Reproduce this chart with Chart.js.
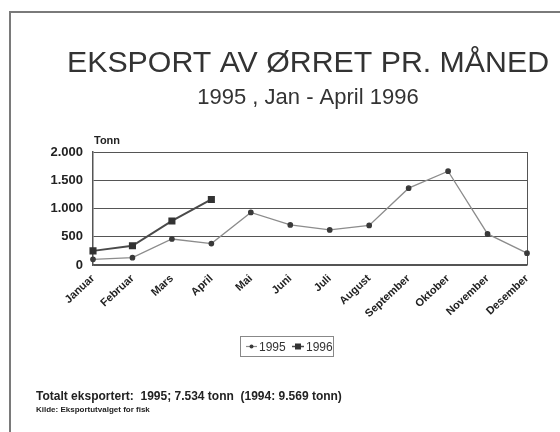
<!DOCTYPE html>
<html>
<head>
<meta charset="utf-8">
<script src="https://cdn.jsdelivr.net/npm/chart.js@4/dist/chart.umd.min.js"></script>
<style>
html,body{margin:0;padding:0;background:#fff;}
#wrap{position:relative;width:560px;height:432px;}
</style>
</head>
<body>
<div id="wrap"><canvas id="c" width="560" height="432"></canvas></div>
<script>
const months = ["Januar","Februar","Mars","April","Mai","Juni","Juli","August","September","Oktober","November","Desember"];
const values1995 = [100,130,460,380,930,710,620,700,1360,1660,550,210];
const values1996 = [250,340,780,1160,null,null,null,null,null,null,null,null];
const yTicks = [0,500,1000,1500,2000];
const titleText = "EKSPORT AV ØRRET PR. MÅNED";
const subtitleText = "1995 , Jan - April 1996";
const unitText = "Tonn";
const footerText = "Totalt eksportert:  1995; 7.534 tonn  (1994: 9.569 tonn)";
const sourceText = "Kilde: Eksportutvalget for fisk";
const seriesNames = ["1995","1996"];

const FONT = "'Liberation Sans', Arial, sans-serif";

function fmtTick(v) {
  if (v >= 1000) {
    return Math.floor(v / 1000) + '.' + String(v % 1000).padStart(3, '0');
  }
  return String(v);
}

const decor = {
  id: 'decor',
  beforeDraw(chart) {
    const ctx = chart.ctx;
    ctx.save();
    ctx.fillStyle = '#fff';
    ctx.fillRect(0, 0, chart.width, chart.height);
    ctx.strokeStyle = '#7a7a7a';
    ctx.lineWidth = 2;
    ctx.beginPath();
    ctx.moveTo(10, 432);
    ctx.lineTo(10, 12);
    ctx.lineTo(560, 12);
    ctx.stroke();
    ctx.restore();
  },
  afterDraw(chart) {
    const ctx = chart.ctx;
    const a = chart.chartArea;
    ctx.save();
    ctx.fillStyle = '#333';
    ctx.textBaseline = 'alphabetic';
    ctx.textAlign = 'center';
    ctx.font = "30.3px " + FONT;
    ctx.fillText(titleText, 308, 72);
    ctx.font = "22px " + FONT;
    ctx.fillText(subtitleText, 308, 104);
    ctx.textAlign = 'left';
    ctx.fillStyle = '#222';
    ctx.font = "bold 11px " + FONT;
    ctx.fillText(unitText, a.left + 1, 144);
    ctx.font = "bold 12px " + FONT;
    ctx.fillText(footerText, 36, 400);
    ctx.font = "bold 8px " + FONT;
    ctx.fillText(sourceText, 36, 412);

    // legend
    const lx = 240, ly = 336, lw = 93, lh = 20;
    ctx.strokeStyle = '#888';
    ctx.lineWidth = 1;
    ctx.strokeRect(lx + 0.5, ly + 0.5, lw, lh);
    const my = ly + lh / 2 + 0.5;
    const ds = chart.data.datasets;
    // 1995
    ctx.strokeStyle = ds[0].borderColor;
    ctx.lineWidth = 1.2;
    ctx.beginPath(); ctx.moveTo(246, my); ctx.lineTo(257, my); ctx.stroke();
    ctx.fillStyle = ds[0].pointBackgroundColor;
    ctx.beginPath(); ctx.arc(251.5, my, 2, 0, Math.PI * 2); ctx.fill();
    ctx.fillStyle = '#333';
    ctx.font = "12px " + FONT;
    ctx.textBaseline = 'middle';
    ctx.fillText(seriesNames[0], 259, my + 1);
    // 1996
    ctx.strokeStyle = ds[1].borderColor;
    ctx.lineWidth = 1.5;
    ctx.beginPath(); ctx.moveTo(292, my); ctx.lineTo(304, my); ctx.stroke();
    ctx.fillStyle = ds[1].pointBackgroundColor;
    ctx.fillRect(295, my - 3, 6, 6);
    ctx.fillStyle = '#333';
    ctx.fillText(seriesNames[1], 306, my + 1);
    ctx.restore();
  }
};

new Chart(document.getElementById('c'), {
  type: 'line',
  data: {
    labels: months,
    datasets: [
      {
        label: seriesNames[0],
        data: values1995,
        borderColor: '#8c8c8c',
        borderWidth: 1.3,
        pointBackgroundColor: '#3a3a3a',
        pointBorderColor: '#3a3a3a',
        pointRadius: 2.2,
        pointStyle: 'circle',
        tension: 0
      },
      {
        label: seriesNames[1],
        data: values1996,
        borderColor: '#4a4a4a',
        borderWidth: 2,
        pointBackgroundColor: '#333',
        pointBorderColor: '#333',
        pointRadius: 3.6,
        pointStyle: 'rect',
        tension: 0,
        spanGaps: false
      }
    ]
  },
  options: {
    responsive: false,
    animation: false,
    devicePixelRatio: 1,
    layout: { padding: { left: 0, right: 33, top: 152, bottom: 107 } },
    plugins: {
      legend: { display: false },
      title: { display: false },
      tooltip: { enabled: false }
    },
    scales: {
      x: {
        offset: false,
        grid: { display: false, drawTicks: false },
        border: { display: true, color: '#555', width: 1.5 },
        ticks: {
          autoSkip: false,
          maxRotation: 43,
          minRotation: 43,
          padding: 7,
          color: '#222',
          font: { family: FONT, size: 11, weight: 'bold' }
        },
        afterFit(s) { s.height = 60; }
      },
      y: {
        min: 0,
        max: 2000,
        afterBuildTicks(s) { s.ticks = yTicks.map(v => ({ value: v })); },
        grid: { color: '#555', lineWidth: 1, drawTicks: false },
        border: { display: true, color: '#555', width: 1.5 },
        ticks: {
          padding: 10,
          color: '#222',
          font: { family: FONT, size: 13, weight: 'bold' },
          callback: v => fmtTick(v)
        },
        afterFit(s) { s.width = 93; }
      }
    }
  },
  plugins: [decor, {
    id: 'rightEdge',
    beforeDatasetsDraw(chart) {
      const a = chart.chartArea, ctx = chart.ctx;
      ctx.save();
      ctx.strokeStyle = '#555';
      ctx.lineWidth = 1;
      ctx.beginPath();
      ctx.moveTo(a.right + 0.5, a.top);
      ctx.lineTo(a.right + 0.5, a.bottom);
      ctx.stroke();
      ctx.restore();
    }
  }]
});
</script>
</body>
</html>
